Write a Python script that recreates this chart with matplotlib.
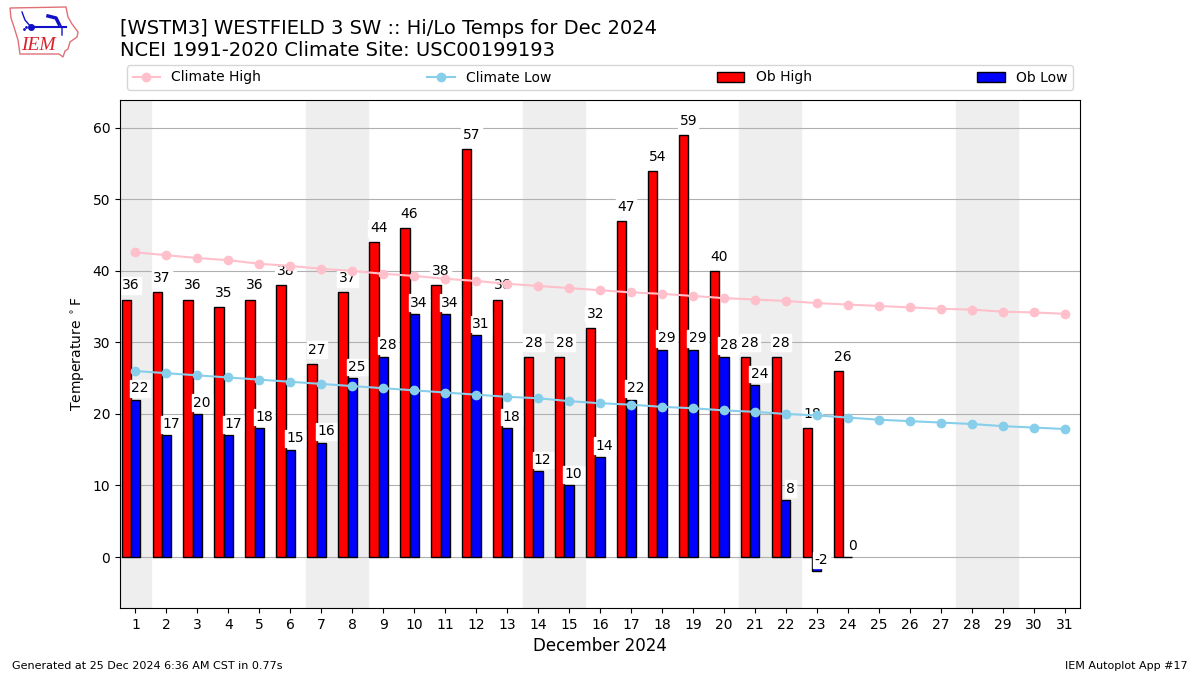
import numpy as np
import matplotlib
matplotlib.use("Agg")
import matplotlib.pyplot as plt
from matplotlib.patches import Polygon

days = list(range(1, 32))
climate_high = [42.6, 42.2, 41.8, 41.5, 41.0, 40.7, 40.3, 40.0, 39.6, 39.3, 38.9,
                38.6, 38.2, 37.9, 37.6, 37.3, 37.0, 36.8, 36.5, 36.2, 36.0, 35.8,
                35.5, 35.3, 35.1, 34.9, 34.7, 34.6, 34.3, 34.2, 34.0]
climate_low = [26.0, 25.7, 25.4, 25.1, 24.8, 24.5, 24.2, 23.9, 23.6, 23.3, 23.0,
               22.7, 22.4, 22.2, 21.8, 21.5, 21.3, 21.0, 20.8, 20.5, 20.3, 20.0,
               19.8, 19.5, 19.2, 19.0, 18.8, 18.6, 18.3, 18.1, 17.9]
ob_days = list(range(1, 25))
ob_high = [36, 37, 36, 35, 36, 38, 27, 37, 44, 46, 38, 57, 36, 28, 28, 32, 47, 54,
           59, 40, 28, 28, 18, 26]
ob_low = [22, 17, 20, 17, 18, 15, 16, 25, 28, 34, 34, 31, 18, 12, 10, 14, 22, 29,
          29, 28, 24, 8, -2, 0]
weekends = [(0.5, 1.5), (6.5, 8.5), (13.5, 15.5), (20.5, 22.5), (27.5, 29.5)]

fig = plt.figure(figsize=(12, 6.75), dpi=100)
ax = fig.add_axes([120 / 1200, 1 - 608 / 675, 960 / 1200, 508 / 675])

for start, end in weekends:
    ax.axvspan(start, end, color="#EEEEEE", zorder=0)
ax.set_axisbelow(True)
ax.grid(axis="y", color="#b0b0b0", zorder=1)

ob_x = np.array(ob_days)
ax.plot(days, climate_high, color="pink", marker="o", label="Climate High", zorder=3)
ax.plot(days, climate_low, color="skyblue", marker="o", label="Climate Low", zorder=3)
ax.bar(ob_x - 0.3, ob_high, width=0.3, color="r", edgecolor="k", label="Ob High", zorder=2)
ax.bar(ob_x, ob_low, width=0.3, color="b", edgecolor="k", label="Ob Low", zorder=2)

# value labels sit slightly outside of the bar centers
box = dict(color="white", boxstyle="square,pad=0.1")
for x, hi, lo in zip(ob_days, ob_high, ob_low):
    ax.text(x - 0.15, hi + 1, str(hi), ha="center", va="bottom", fontsize=10,
            bbox=box, zorder=2.5)
    ax.text(x + 0.15, lo + 0.6, str(lo), ha="center", va="bottom", fontsize=10,
            bbox=box, zorder=2.5)

ax.set_xlim(0.5, 31.5)
ax.set_ylim(-7.13, 63.9)
ax.set_xticks(days)
ax.set_yticks(range(0, 61, 10))
ax.tick_params(labelsize=10)
ax.set_xlabel("December 2024", fontsize=12)
ax.set_ylabel(r"Temperature $^\circ$F", fontsize=10)

fig.legend(*ax.get_legend_handles_labels(), loc="lower left", ncol=4, mode="expand",
           bbox_to_anchor=(120 / 1200, 1 - 97 / 675, 960 / 1200, 29 / 675), fontsize=10)

fig.text(120 / 1200, 1 - 29 / 675, "[WSTM3] WESTFIELD 3 SW :: Hi/Lo Temps for Dec 2024",
         fontsize=14, va="center")
fig.text(120 / 1200, 1 - 50 / 675, "NCEI 1991-2020 Climate Site: USC00199193",
         fontsize=14, va="center")
fig.text(12 / 1200, 1 - 666 / 675, "Generated at 25 Dec 2024 6:36 AM CST in 0.77s",
         fontsize=8, va="center")
fig.text(1188 / 1200, 1 - 666 / 675, "IEM Autoplot App #17", fontsize=8, va="center", ha="right")

# logo, drawn in pixel coordinates
logo = fig.add_axes([0, 1 - 60 / 675, 90 / 1200, 60 / 675])
logo.set_xlim(0, 90)
logo.set_ylim(60, 0)
logo.axis("off")
outline = [(10, 8), (66, 7), (68, 17), (72, 24), (78, 32), (77, 37), (70, 42), (68, 49),
           (65, 51), (63, 57), (59, 54), (20, 54), (18, 40), (14, 27), (11, 18)]
logo.add_patch(Polygon(outline, closed=True, fill=False, edgecolor="#e07078", lw=1))
logo.plot([31, 66], [27, 27], color="#1010c8", lw=1.5)
logo.plot([31], [27], "o", color="#1010c8", ms=4)
logo.plot([22, 25, 31], [12, 20, 27], color="#1010c8", lw=1)
logo.plot([48, 56, 59], [16, 18, 24], color="#1010c8", lw=2.5)
logo.plot([58, 62, 62], [22, 27, 35], color="#1010c8", lw=1)
logo.plot([24, 26], [29, 27], ".", color="#1010c8", ms=2)
logo.text(21, 46, "IEM", color="#d8202c", fontsize=14, family="Liberation Serif",
          style="italic", va="center")

fig.savefig("out.png", dpi=100)
